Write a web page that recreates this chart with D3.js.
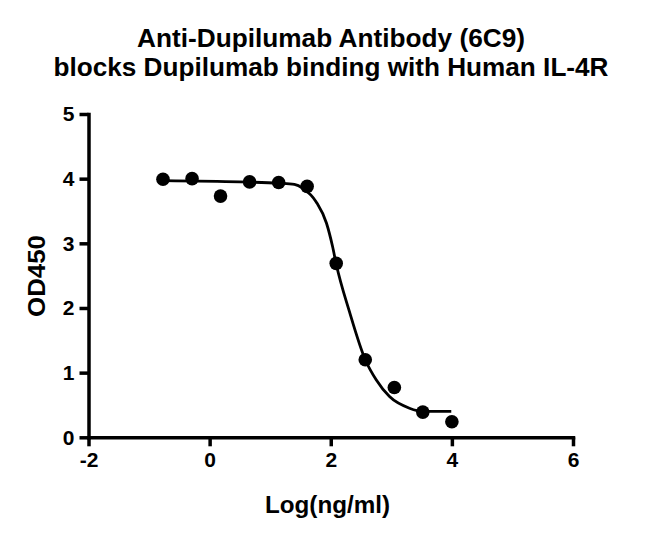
<!doctype html>
<html lang="en">
<head>
<meta charset="UTF-8">
<script src="https://cdnjs.cloudflare.com/ajax/libs/d3/7.8.5/d3.min.js"></script>
<title>Anti-Dupilumab Antibody (6C9)</title>
<style>
  body { margin: 0; background: #fff; }
  text { font-family: "Liberation Sans", Arial, sans-serif; font-weight: bold; fill: #000; }
</style>
</head>
<body>
<div id="chart"></div>
<script>
    // measured points, x = log10(ng/ml)
    const logConc = [-0.77, -0.29, 0.18, 0.66, 1.14, 1.61, 2.09, 2.57, 3.05, 3.52, 4.0];
    const od450 = [3.99, 4.00, 3.73, 3.95, 3.94, 3.88, 2.69, 1.20, 0.77, 0.39, 0.24];

    // fitted curve
    const fitX = [-0.77, 0.5, 1.14, 1.4, 1.54, 1.76, 1.93, 2.03, 2.09, 2.31, 2.57, 2.75, 2.97, 3.30, 3.52, 3.99];
    const fitY = [3.97, 3.95, 3.93, 3.91, 3.85, 3.64, 3.31, 2.95, 2.68, 1.94, 1.20, 0.89, 0.63, 0.45, 0.40, 0.40];

    const xTicks = [-2, 0, 2, 4, 6];
    const yTicks = [0, 1, 2, 3, 4, 5];

    const titleLines = ["Anti-Dupilumab Antibody (6C9)", "blocks Dupilumab binding with Human IL-4R"];

    const W = 650, H = 539;

    const svg = d3.select('#chart')
        .append('svg')
        .attr('width', W)
        .attr('height', H);

    const x = d3.scaleLinear().domain([-2, 6]).range([88.5, 573]);
    const y = d3.scaleLinear().domain([0, 5]).range([437.3, 114]);

    // title
    svg.selectAll('text.title')
        .data(titleLines)
        .join('text')
        .attr('class', 'title')
        .attr('x', 331)
        .attr('y', (d, i) => 47 + i * 29)
        .attr('text-anchor', 'middle')
        .attr('font-size', 25)
        .attr('textLength', (d, i) => i === 0 ? 388 : 555)
        .attr('lengthAdjust', 'spacingAndGlyphs')
        .text(d => d);

    // axes
    const gx = svg.append('g')
        .attr('transform', `translate(0,${y(0)})`)
        .call(d3.axisBottom(x).tickValues(xTicks).tickFormat(d => String(d))
            .tickSize(9).tickSizeOuter(0).tickPadding(6));

    const gy = svg.append('g')
        .attr('transform', `translate(${x(-2)},0)`)
        .call(d3.axisLeft(y).tickValues(yTicks).tickFormat(d => String(d))
            .tickSize(9).tickSizeOuter(0).tickPadding(5));

    [gx, gy].forEach(g => {
        g.attr('font-family', null).attr('font-size', null);
        g.select('.domain').attr('stroke', '#000').attr('stroke-width', 3.5).attr('stroke-linecap', 'square');
        g.selectAll('.tick line').attr('stroke', '#000').attr('stroke-width', 3.5);
        g.selectAll('.tick text').attr('font-size', 21).attr('fill', '#000');
    });

    // axis titles
    svg.append('text')
        .attr('x', 327.5)
        .attr('y', 513)
        .attr('text-anchor', 'middle')
        .attr('font-size', 24)
        .attr('textLength', 125)
        .attr('lengthAdjust', 'spacingAndGlyphs')
        .text('Log(ng/ml)');

    svg.append('text')
        .attr('transform', 'translate(45,276) rotate(-90)')
        .attr('text-anchor', 'middle')
        .attr('font-size', 24)
        .attr('textLength', 82)
        .attr('lengthAdjust', 'spacingAndGlyphs')
        .text('OD450');

    // fit line
    const line = d3.line()
        .x(d => x(d[0]))
        .y(d => y(d[1]))
        .curve(d3.curveMonotoneX);

    svg.append('path')
        .datum(d3.zip(fitX, fitY))
        .attr('d', line)
        .attr('fill', 'none')
        .attr('stroke', '#000')
        .attr('stroke-width', 2.8);

    // points
    svg.selectAll('circle')
        .data(d3.zip(logConc, od450))
        .join('circle')
        .attr('cx', d => x(d[0]))
        .attr('cy', d => y(d[1]))
        .attr('r', 6.8)
        .attr('fill', '#000');
</script>
</body>
</html>
